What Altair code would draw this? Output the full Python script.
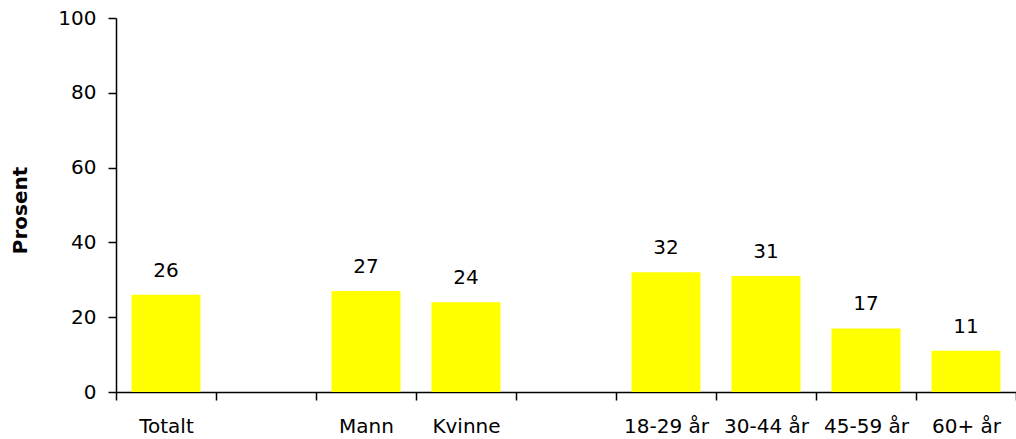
import altair as alt
import pandas as pd

# Survey groups; entries starting with "_" are empty spacer slots between groups
categories = ["Totalt", "_a", "Mann", "Kvinne", "_b", "18-29 år", "30-44 år", "45-59 år", "60+ år"]
values = [26, None, 27, 24, None, 32, 31, 17, 11]

df = pd.DataFrame({"gruppe": categories, "prosent": values})
bars_df = df.dropna()

FONT = "DejaVu Sans"

x_scale = alt.Scale(domain=categories, paddingInner=0, paddingOuter=0)

x_enc = alt.X(
    "gruppe:N",
    sort=categories,
    scale=x_scale,
    axis=alt.Axis(
        title=None,
        tickBand="extent",
        labelAngle=0,
        labelExpr="indexof(datum.label, '_') == 0 ? '' : datum.label",
        labelFontSize=20,
        labelFont=FONT,
        labelColor="black",
        labelPadding=16,
        labelOverlap=False,
        tickSize=8,
        tickColor="black",
        tickWidth=1.5,
        domainColor="black",
        domainWidth=1.5,
        grid=False,
    ),
)

y_enc = alt.Y(
    "prosent:Q",
    scale=alt.Scale(domain=[0, 100]),
    axis=alt.Axis(
        title="Prosent",
        titleFont=FONT,
        titleFontSize=20,
        titleFontWeight="bold",
        titleColor="black",
        titlePadding=27,
        titleY=192,
        values=[0, 20, 40, 60, 80, 100],
        labelFontSize=20,
        labelFont=FONT,
        labelColor="black",
        labelPadding=12,
        tickSize=8,
        tickColor="black",
        tickWidth=1.5,
        domainColor="black",
        domainWidth=1.5,
        grid=False,
    ),
)

bars = alt.Chart(bars_df).mark_bar(
    color="#FFFF00", width=alt.RelativeBandSize(0.69)
).encode(x=x_enc, y=y_enc)

labels = alt.Chart(bars_df).mark_text(
    baseline="bottom", dy=-14, fontSize=20, font=FONT, color="black"
).encode(
    x=alt.X("gruppe:N", sort=categories, scale=x_scale),
    y="prosent:Q",
    text=alt.Text("prosent:Q", format="d"),
)

chart = (
    alt.layer(bars, labels)
    .properties(
        width=900,
        height=374,
        autosize=alt.AutoSizeParams(type="none"),
        padding={"left": 116, "top": 18, "right": 0, "bottom": 47},
        background="white",
    )
    .configure_view(stroke=None)
)

chart.save("out.html", embed_options={"renderer": "svg", "actions": False})
